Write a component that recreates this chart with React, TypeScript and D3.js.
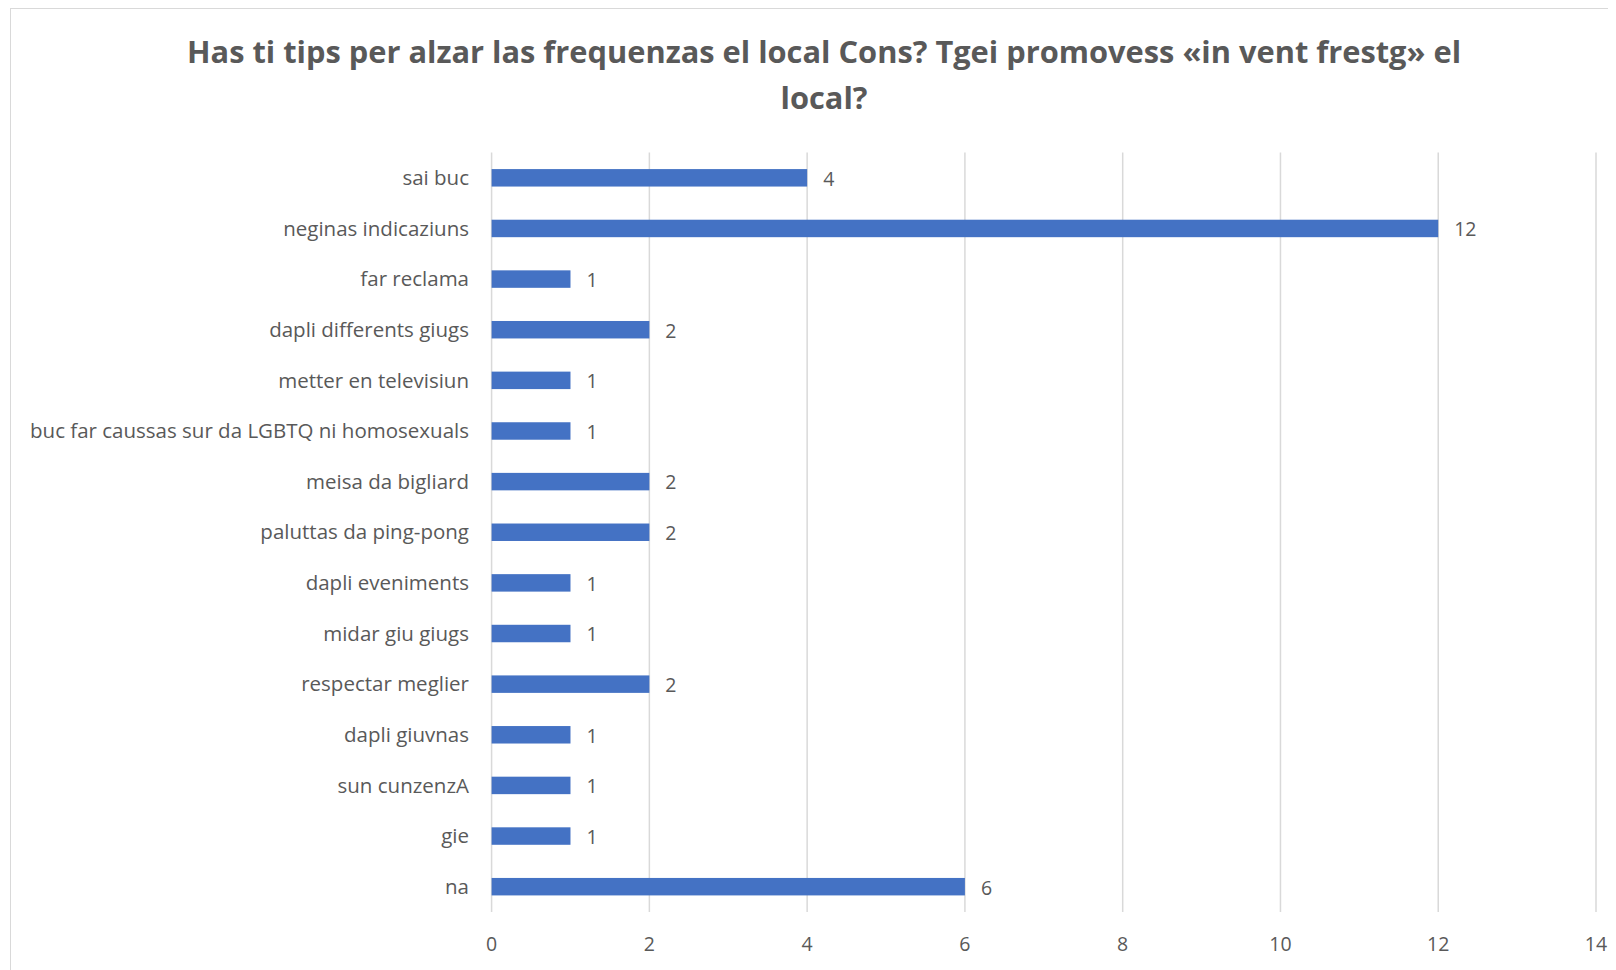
import React from "react";
import * as d3 from "d3";

const titleLines = [
  "Has ti tips per alzar las frequenzas el local Cons? Tgei promovess «in vent frestg» el",
  "local?",
];
const categories = [
  "sai buc",
  "neginas indicaziuns",
  "far reclama",
  "dapli differents giugs",
  "metter en televisiun",
  "buc far caussas sur da LGBTQ ni homosexuals",
  "meisa da bigliard",
  "paluttas da ping-pong",
  "dapli eveniments",
  "midar giu giugs",
  "respectar meglier",
  "dapli giuvnas",
  "sun cunzenzA",
  "gie",
  "na",
];
const values = [4, 12, 1, 2, 1, 1, 2, 2, 1, 1, 2, 1, 1, 1, 6];
const xTicks = [0, 2, 4, 6, 8, 10, 12, 14];

const W = 1600;
const H = 962;
const FONT = "'Open Sans', 'Noto Sans', sans-serif";
const TEXT = "#595959";

export default function App() {
  const left = 483.6;
  const right = 1588;
  const top = 144.5;
  const bottom = 904;
  const x = d3.scaleLinear().domain([0, 14]).range([left, right]);
  const y = d3
    .scaleBand<string>()
    .domain(categories)
    .range([top, bottom])
    .paddingInner(0.655)
    .paddingOuter(0.3275);

  return (
    <svg width={W} height={H} style={{ display: "block" }} fontFamily={FONT}>
      <rect x={0} y={0} width={W} height={H} fill="#fff" />
      <rect x={2.5} y={0.5} width={W + 10} height={H + 10} fill="none" stroke="#d9d9d9" strokeWidth={1} />
      {titleLines.map((t, i) => (
        <text
          key={i}
          x={816}
          y={55 + i * 46}
          textAnchor="middle"
          fontSize={30.8}
          fontWeight={700}
          fill={TEXT}
        >
          {t}
        </text>
      ))}
      {xTicks.map((t) => (
        <g key={t}>
          <line x1={x(t)} x2={x(t)} y1={top} y2={bottom} stroke="#d9d9d9" strokeWidth={1.5} />
          <text x={x(t)} y={943} textAnchor="middle" fontSize={19.5} fill={TEXT}>
            {t}
          </text>
        </g>
      ))}
      {categories.map((c, i) => {
        const yc = (y(c) as number) + y.bandwidth() / 2;
        return (
          <g key={c}>
            <rect
              x={x(0)}
              y={y(c) as number}
              width={x(values[i]) - x(0)}
              height={y.bandwidth()}
              fill="#4472C4"
            />
            <text x={461} y={yc} dy="0.35em" textAnchor="end" fontSize={20.5} fill={TEXT}>
              {c}
            </text>
            <text x={x(values[i]) + 16} y={yc + 1} dy="0.35em" textAnchor="start" fontSize={19.5} fill={TEXT}>
              {values[i]}
            </text>
          </g>
        );
      })}
    </svg>
  );
}
